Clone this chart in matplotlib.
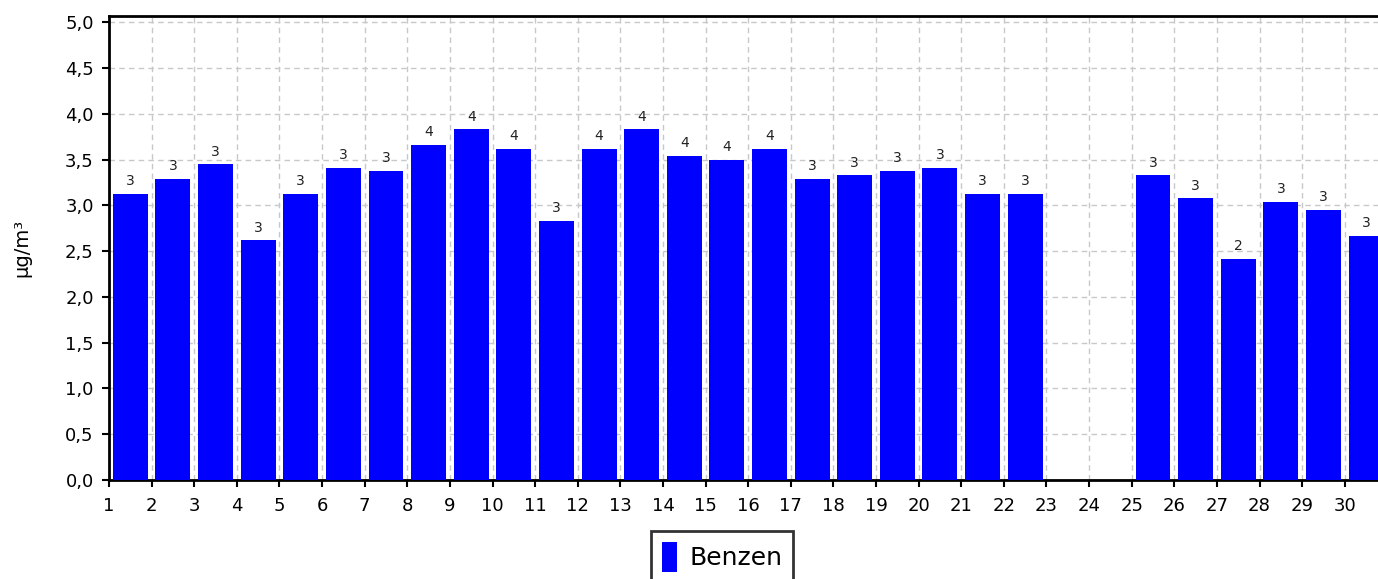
import numpy as np
import matplotlib
matplotlib.use("Agg")
import matplotlib.pyplot as plt
from matplotlib.ticker import FuncFormatter, MultipleLocator

days = list(range(1, 31))
benzen = [3.13, 3.29, 3.45, 2.62, 3.13, 3.41, 3.38, 3.66, 3.83, 3.62,
          2.83, 3.62, 3.83, 3.54, 3.50, 3.62, 3.29, 3.33, 3.38, 3.41,
          3.13, 3.13, np.nan, np.nan, 3.33, 3.08, 2.42, 3.04, 2.95, 2.67]
series_name = "Benzen"
y_label = "µg/m³"

plt.rcParams['font.family'] = ['DejaVu Sans']

fig = plt.figure(figsize=(13.78, 5.79), dpi=100)
ax = fig.add_axes([109/1378, 1 - 480/579, 1 - 109/1378, (480 - 16)/579])

x = np.array(days) + 0.5
vals = np.array(benzen, dtype=float)
mask = ~np.isnan(vals)
bars = ax.bar(x[mask], vals[mask], width=0.82, color='#0000ff', zorder=3,
              label=series_name)

for xi, v in zip(x[mask], vals[mask]):
    ax.annotate(f"{v:.0f}", (xi, v), xytext=(0, 4), textcoords='offset points',
                ha='center', va='bottom', fontsize=10, color='#222222')

ax.set_xlim(1, 30.78)
ax.set_ylim(0, 5.07)
ax.set_xticks(days)
ax.set_xticklabels([str(d) for d in days])
ax.yaxis.set_major_locator(MultipleLocator(0.5))
ax.yaxis.set_major_formatter(FuncFormatter(lambda v, p: f"{v:.1f}".replace('.', ',')))

ax.grid(True, which='major', linestyle=(0, (4, 3)), color='#c8c8c8', linewidth=1.0, zorder=0)
ax.set_axisbelow(True)

for s in ['left', 'bottom', 'top']:
    ax.spines[s].set_linewidth(2)
    ax.spines[s].set_color('black')
ax.spines['right'].set_visible(False)

ax.tick_params(axis='both', direction='out', length=5, width=1.5, labelsize=13,
               colors='black')
ax.tick_params(axis='x', pad=7)
ax.tick_params(axis='y', pad=6)
ax.set_ylabel(y_label, fontsize=14, labelpad=24)

leg = fig.legend(handles=[bars], labels=[series_name], loc='upper center',
                 bbox_to_anchor=(722/1378, 1 - 531/579), fontsize=18,
                 frameon=True, fancybox=False, edgecolor='black',
                 handlelength=0.6, handleheight=1.5, handletextpad=0.5,
                 borderpad=0.42, borderaxespad=0)
leg.get_frame().set_linewidth(2)

fig.savefig("out.png", dpi=100)
